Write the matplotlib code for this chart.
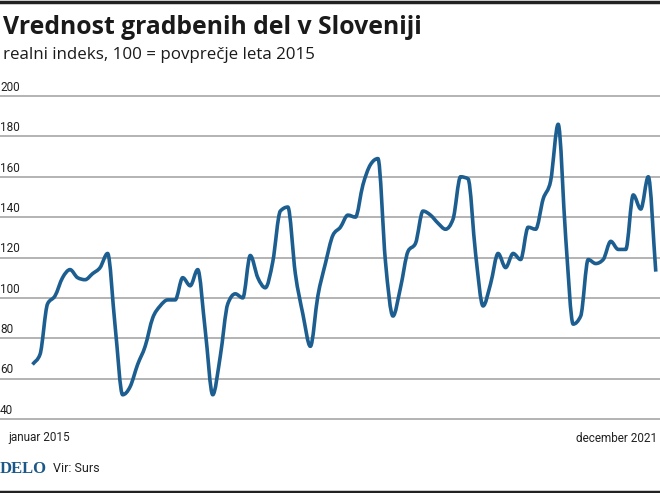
import numpy as np
import matplotlib
matplotlib.use("Agg")
from matplotlib import pyplot as plt
from matplotlib.path import Path
from matplotlib.patches import PathPatch

# monthly index, januar 2015 .. december 2021
months = np.arange(84)
values = [
    67, 72, 97, 101, 110, 114, 110, 109, 112, 115, 122, 86,      # 2015
    52, 56, 67, 76, 90, 96, 99, 99, 110, 106, 114, 84,          # 2016
    52, 71, 97, 102, 100, 121, 110, 105, 118, 143, 145, 112,    # 2017
    92, 76, 101, 117, 131, 135, 141, 140, 156, 166, 169, 118,   # 2018
    91, 105, 123, 127, 143, 141, 137, 134, 139, 160, 159, 122,  # 2019
    96, 107, 122, 115, 122, 119, 135, 134, 149, 158, 186, 130,  # 2020
    87, 91, 119, 117, 119, 128, 124, 124, 151, 144, 160, 113,   # 2021
]
y_ticks = [40, 60, 80, 100, 120, 140, 160, 180, 200]
x_labels = ["januar 2015", "december 2021"]

title = "Vrednost gradbenih del v Sloveniji"
subtitle = "realni indeks, 100 = povprečje leta 2015"
source = "Vir: Surs"

line_color = "#1d5e91"
grid_color = "#b3b3b3"


def smooth_path(x, y):
    # monotone cubic (steffen) segments drawn as beziers, no overshoot
    x = np.asarray(x, float)
    y = np.asarray(y, float)
    h = np.diff(x)
    s = np.diff(y) / h
    m = np.zeros_like(y)
    for i in range(1, len(y) - 1):
        if s[i - 1] * s[i] > 0:
            p = (s[i - 1] * h[i] + s[i] * h[i - 1]) / (h[i - 1] + h[i])
            m[i] = np.sign(s[i]) * min(abs(s[i - 1]), abs(s[i]), 0.5 * abs(p)) * 2
    m[0] = s[0]
    m[-1] = s[-1]
    verts = [(x[0], y[0])]
    codes = [Path.MOVETO]
    for i in range(len(x) - 1):
        d = h[i] / 3.0
        verts += [(x[i] + d, y[i] + m[i] * d),
                  (x[i + 1] - d, y[i + 1] - m[i + 1] * d),
                  (x[i + 1], y[i + 1])]
        codes += [Path.CURVE4] * 3
    return Path(verts, codes)


W, H = 660, 493
fig = plt.figure(figsize=(W / 100, H / 100), dpi=100)

# axes spans full width, grid runs edge to edge
ax = fig.add_axes([0, (H - 421) / H, 1, (421 - 94) / H])
ax.set_xlim(-4.33, 83.56)
ax.set_ylim(39, 201)
ax.axis("off")

for t in y_ticks:
    ax.axhline(t, color=grid_color, lw=1.4, zorder=1)
    ax.text(0.0, t + 4.3, str(t), transform=ax.get_yaxis_transform(),
            ha="left", va="center", fontsize=8.5, family="Roboto",
            color="#222222")

ax.add_patch(PathPatch(smooth_path(months, values), fill=False,
                       edgecolor=line_color, lw=2.6, capstyle="butt",
                       joinstyle="round", zorder=3))

# header / footer
fig.add_artist(plt.Line2D([0, 1], [1 - 1.5 / H, 1 - 1.5 / H],
                          color="#222222", lw=2.5))
fig.add_artist(plt.Line2D([0, 1], [1.5 / H, 1.5 / H],
                          color="#222222", lw=2.5))
fig.text(3 / W, 1 - 28 / H, title, fontsize=17.8, fontweight="bold",
         family="Open Sans", va="center", ha="left", color="#1a1a1a")
fig.text(3 / W, 1 - 55 / H, subtitle, fontsize=12.2, family="Open Sans",
         va="center", ha="left", color="#1a1a1a")
fig.text(8 / W, 1 - 438 / H, x_labels[0], fontsize=8.5, family="Roboto",
         va="center", ha="left", color="#222222")
fig.text(657 / W, 1 - 438 / H, x_labels[1], fontsize=8.5, family="Roboto",
         va="center", ha="right", color="#222222")
fig.text(0 / W, 1 - 469 / H, "DELO", fontsize=12, fontweight="bold",
         family="Liberation Serif", va="center", ha="left", color="#1b5789")
fig.text(53 / W, 1 - 468 / H, source, fontsize=9, family="Roboto",
         va="center", ha="left", color="#222222")

fig.savefig("out.png", dpi=100)
